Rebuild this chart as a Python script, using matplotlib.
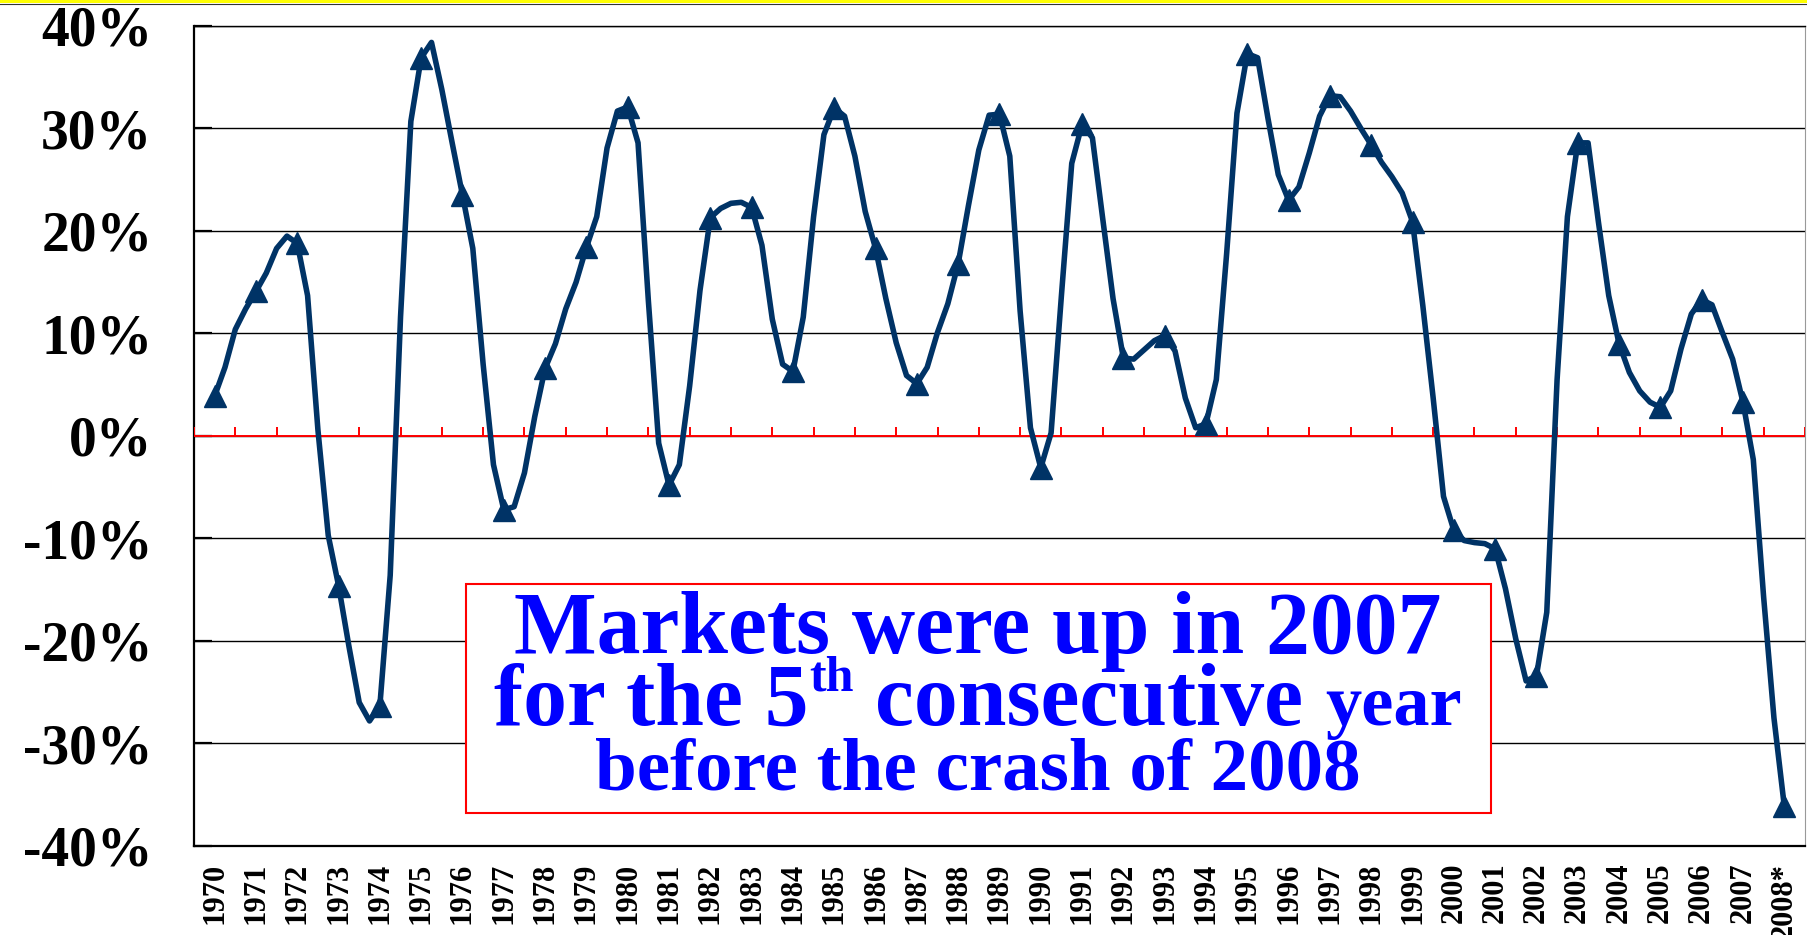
import matplotlib
matplotlib.use('Agg')
import matplotlib.pyplot as plt
import numpy as np
from matplotlib.lines import Line2D
from matplotlib.patches import Rectangle

# Colours and fonts
LINE_COLOR = '#003366'
TEXT_COLOR = '#0000ff'
SERIF = 'Liberation Serif'

# Category labels, one per year
years = ['1970', '1971', '1972', '1973', '1974', '1975', '1976', '1977', '1978', '1979',
         '1980', '1981', '1982', '1983', '1984', '1985', '1986', '1987', '1988', '1989',
         '1990', '1991', '1992', '1993', '1994', '1995', '1996', '1997', '1998', '1999',
         '2000', '2001', '2002', '2003', '2004', '2005', '2006', '2007', '2008*']

# Trailing 12-month return (%), sampled each quarter; every 4th value is the year mark
returns = [
    3.9, 6.7, 10.4, 12.4,        # 1970
    14.1, 15.9, 18.3, 19.5,      # 1971
    18.8, 13.7, 0.6, -9.7,       # 1972
    -14.6, -20.5, -26.0, -27.8,  # 1973
    -26.3, -13.6, 11.6, 30.7,    # 1974
    36.9, 38.4, 33.8, 28.6,      # 1975
    23.5, 18.3, 7.0, -2.8,       # 1976
    -7.2, -6.9, -3.6, 1.9,       # 1977
    6.6, 9.0, 12.4, 15.0,        # 1978
    18.4, 21.4, 28.1, 31.7,      # 1979
    32.1, 28.6, 13.2, -0.7,      # 1980
    -4.8, -2.8, 4.9, 14.2,       # 1981
    21.3, 22.2, 22.7, 22.8,      # 1982
    22.3, 18.6, 11.4, 7.0,       # 1983
    6.3, 11.6, 21.4, 29.4,       # 1984
    32.0, 31.2, 27.3, 21.9,      # 1985
    18.3, 13.4, 9.1, 5.9,        # 1986
    5.1, 6.7, 10.1, 12.9,        # 1987
    16.8, 22.5, 27.9, 31.3,      # 1988
    31.4, 27.3, 12.2, 0.8,       # 1989
    -3.1, 0.3, 13.7, 26.6,       # 1990
    30.4, 29.1, 21.2, 13.4,      # 1991
    7.6, 7.5, 8.4, 9.3,          # 1992
    9.8, 8.3, 3.7, 0.8,          # 1993
    1.2, 5.5, 17.8, 31.5,        # 1994
    37.3, 36.9, 31.0, 25.5,      # 1995
    23.0, 24.3, 27.6, 31.2,      # 1996
    33.2, 33.1, 31.7, 30.0,      # 1997
    28.4, 26.7, 25.3, 23.7,      # 1998
    20.9, 12.7, 3.7, -5.9,       # 1999
    -9.2, -10.2, -10.4, -10.5,   # 2000
    -11.0, -14.9, -19.8, -23.9,  # 2001
    -23.4, -17.2, 5.5, 21.4,     # 2002
    28.6, 28.6, 20.9, 13.7,      # 2003
    9.0, 6.2, 4.4, 3.3,          # 2004
    2.8, 4.4, 8.5, 11.9,         # 2005
    13.3, 12.8, 10.1, 7.5,       # 2006
    3.3, -2.3, -15.7, -27.5,     # 2007
    -36.1,                       # 2008
]

y_ticks = [-40, -30, -20, -10, 0, 10, 20, 30, 40]
y_labels = ['-40%', '-30%', '-20%', '-10%', '0%', '10%', '20%', '30%', '40%']

fig = plt.figure(figsize=(18.08, 9.35), dpi=100)
ax = fig.add_axes([0.1073, 0.0952, 0.8910, 0.8770])

# Main series and yearly markers
x_quarter = np.arange(len(returns)) / 4 + 0.5
x_year = np.arange(len(years)) + 0.5
ax.plot(x_quarter, returns, color=LINE_COLOR, lw=4.0, solid_joinstyle='round',
        solid_capstyle='round', zorder=5)
ax.plot(x_year, returns[::4], ls='none', marker='^', ms=16, color=LINE_COLOR, zorder=6)

# Red zero axis with category tick marks
ax.axhline(0, color='red', lw=1.4, zorder=3)
ax.vlines(np.arange(len(years) + 1), 0, 0.9, color='red', lw=1.4, zorder=3)

ax.set_xlim(0, len(years))
ax.set_ylim(-40, 40)

ax.set_axisbelow(True)
ax.grid(axis='y', color='black', lw=1.0)
ax.set_yticks(y_ticks)
ax.set_yticklabels(y_labels, fontsize=40, fontweight='bold', family=SERIF)
ax.tick_params(axis='y', direction='in', length=13, width=1.6, pad=30)

ax.set_xticks(x_year)
ax.set_xticklabels(years, rotation=90, fontsize=22, fontweight='bold', family=SERIF)
ax.tick_params(axis='x', length=0, pad=12)

for side in ['left', 'bottom']:
    ax.spines[side].set_linewidth(1.6)
ax.spines['top'].set_linewidth(1.0)
ax.spines['right'].set_color('#999999')
ax.spines['right'].set_linewidth(0.8)

# Callout box
ax.add_patch(Rectangle((0.1688, 0.040), 0.805 - 0.1688, 0.3195 - 0.040,
                       transform=ax.transAxes, facecolor='white', edgecolor='red',
                       lw=1.5, zorder=4))

cx = 0.4867
font = dict(color=TEXT_COLOR, fontweight='bold', family=SERIF, zorder=7,
            transform=ax.transAxes, va='baseline')
ax.text(cx, 0.2354, 'Markets were up in 2007', ha='center', fontsize=63, **font)
ax.text(cx, 0.0683, 'before the crash of 2008', ha='center', fontsize=54, **font)

# Middle line: mixed sizes with a superscript, laid out piece by piece
renderer = fig.canvas.get_renderer()
space = 0.25 * 63 * fig.dpi / 72
pieces = [('for the 5', 63, 0.1476, 0.0),
          ('th', 36, 0.1900, space),
          ('consecutive', 63, 0.1476, space),
          ('year', 52, 0.1476, 0.0)]
texts, widths = [], []
for s, size, base, gap in pieces:
    t = ax.text(0, base, s, ha='left', fontsize=size, **font)
    texts.append(t)
    widths.append(t.get_window_extent(renderer).width)
gaps = [p[3] for p in pieces]
total = sum(widths) + sum(gaps)
x_px = ax.transAxes.transform((cx, 0))[0] - total / 2
inv = ax.transAxes.inverted()
for t, w, g in zip(texts, widths, gaps):
    t.set_x(inv.transform((x_px, 0))[0])
    x_px += w + g

# Thin yellow band along the top edge
fig.add_artist(Rectangle((0, 1 - 3 / 935), 1, 3 / 935, transform=fig.transFigure,
                         facecolor='yellow', edgecolor='none'))
fig.add_artist(Line2D([0, 1], [1 - 3.5 / 935] * 2, color='#333333', lw=0.8,
                      transform=fig.transFigure))

fig.savefig('out.png', dpi=100)
